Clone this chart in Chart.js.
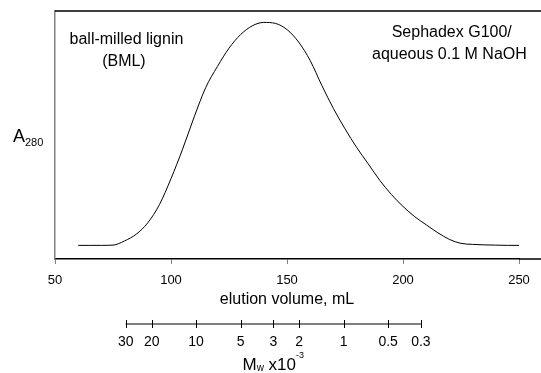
<!DOCTYPE html>
<html>
<head>
<meta charset="utf-8">
<script src="https://cdn.jsdelivr.net/npm/chart.js@4.4.1/dist/chart.umd.min.js"></script>
<style>
  html, body { margin: 0; padding: 0; background: #fff; }
  #wrap { width: 541px; height: 373px; }
</style>
</head>
<body>
<div id="wrap"><canvas id="chart" width="541" height="373"></canvas></div>
<script>
// elution volume (mL) vs A280
const elutionVolume = [60, 65, 70, 75, 80, 85, 90, 95, 100, 105, 110, 115, 120, 125, 130, 135, 140, 145, 150,
  155, 160, 165, 170, 175, 180, 185, 190, 195, 200, 205, 210, 215, 220, 225, 230, 235, 240, 245, 250];
const absorbance = [0.055, 0.055, 0.055, 0.056, 0.073, 0.100, 0.146, 0.219, 0.324, 0.443, 0.573, 0.692, 0.776,
  0.850, 0.905, 0.940, 0.954, 0.950, 0.925, 0.875, 0.800, 0.700, 0.607, 0.525, 0.450, 0.384, 0.317, 0.260,
  0.212, 0.171, 0.138, 0.106, 0.079, 0.063, 0.059, 0.057, 0.056, 0.055, 0.055];

const volumeTicks = [50, 100, 150, 200, 250];
const mwTicks = [30, 20, 10, 5, 3, 2, 1, 0.5, 0.3];
const notesLeft = ['ball-milled lignin', '(BML)'];
const notesRight = ['Sephadex G100/', 'aqueous 0.1 M NaOH'];

const FONT = 'Arial, "Liberation Sans", sans-serif';

// draws the frame top, the Mw scale bar and the texts with sub/superscripts
const extras = {
  id: 'extras',
  afterDraw(chart) {
    const { ctx, chartArea: ca, scales } = chart;
    const x = scales.x, y = scales.y, mw = scales.mw;
    ctx.save();
    ctx.strokeStyle = '#000';
    ctx.lineWidth = 1.5;
    ctx.beginPath();
    ctx.moveTo(ca.left, ca.top);
    ctx.lineTo(chart.width, ca.top);
    ctx.moveTo(ca.right, ca.bottom);
    ctx.lineTo(chart.width, ca.bottom);
    ctx.stroke();

    // Mw bar
    const ya = mw.top + 10;
    const xa = mw.getPixelForValue(mwTicks[0]);
    const xb = mw.getPixelForValue(mwTicks[mwTicks.length - 1]);
    ctx.lineWidth = 1;
    ctx.beginPath();
    ctx.moveTo(xa, ya);
    ctx.lineTo(xb, ya);
    mwTicks.forEach(v => {
      const px = Math.round(mw.getPixelForValue(v)) + 0.5;
      ctx.moveTo(px, ya - 4);
      ctx.lineTo(px, ya + 4);
    });
    ctx.stroke();

    ctx.fillStyle = '#000';
    ctx.textBaseline = 'alphabetic';

    // Mw x10-3
    const parts = [
      { t: 'M', f: '17px ' + FONT, dy: 0 },
      { t: 'w', f: '10px ' + FONT, dy: 1 },
      { t: ' x10', f: '17px ' + FONT, dy: 0 },
      { t: '-3', f: '9px ' + FONT, dy: -12 }
    ];
    let total = 0;
    parts.forEach(p => { ctx.font = p.f; p.w = ctx.measureText(p.t).width; total += p.w; });
    let cx = (xa + xb) / 2 - total / 2;
    ctx.textAlign = 'left';
    parts.forEach(p => {
      ctx.font = p.f;
      ctx.fillText(p.t, cx, mw.bottom - 3 + p.dy);
      cx += p.w;
    });

    // A280
    const midY = (ca.top + ca.bottom) / 2;
    ctx.font = '18px ' + FONT;
    ctx.fillText('A', 13, midY + 7);
    const aw = ctx.measureText('A').width;
    ctx.font = '11px ' + FONT;
    ctx.fillText('280', 13 + aw, midY + 11);

    // notes
    ctx.font = '16px ' + FONT;
    ctx.textAlign = 'center';
    ctx.textBaseline = 'middle';
    ctx.fillText(notesLeft[0], x.getPixelForValue(80.8), y.getPixelForValue(0.883));
    ctx.fillText(notesLeft[1], x.getPixelForValue(79.7), y.getPixelForValue(0.794));
    ctx.fillText(notesRight[0], x.getPixelForValue(221.0), y.getPixelForValue(0.911));
    ctx.fillText(notesRight[1], x.getPixelForValue(220.0), y.getPixelForValue(0.823));
    ctx.restore();
  }
};

new Chart(document.getElementById('chart'), {
  type: 'line',
  data: {
    labels: elutionVolume,
    datasets: [{
      data: elutionVolume.map((v, i) => ({ x: v, y: absorbance[i] })),
      borderColor: '#000',
      borderWidth: 1,
      pointRadius: 0,
      fill: false,
      cubicInterpolationMode: 'monotone'
    }]
  },
  options: {
    responsive: false,
    animation: false,
    devicePixelRatio: 1,
    layout: { padding: { top: 11, right: 22, left: 0, bottom: 0 } },
    plugins: { legend: { display: false }, tooltip: { enabled: false } },
    scales: {
      x: {
        type: 'linear',
        position: 'bottom',
        min: 50,
        max: 250,
        afterBuildTicks: s => { s.ticks = volumeTicks.map(v => ({ value: v })); },
        afterFit: s => { s.height = 55; },
        grid: { display: true, drawOnChartArea: false, tickLength: 5, color: '#808080' },
        border: { display: true, color: '#000', width: 1.5 },
        ticks: { color: '#000', font: { family: FONT, size: 13 }, padding: 9, maxRotation: 0 },
        title: { display: true, text: 'elution volume, mL', color: '#000',
                 font: { family: FONT, size: 16 }, padding: { top: 0, bottom: 5 } }
      },
      mw: {
        type: 'logarithmic',
        position: 'bottom',
        weight: 1,
        reverse: true,
        min: 0.0649,
        max: 90.36,
        afterBuildTicks: s => { s.ticks = mwTicks.map(v => ({ value: v })); },
        afterFit: s => { s.height = 59; },
        grid: { display: false, drawTicks: false },
        border: { display: false },
        ticks: { color: '#000', font: { family: FONT, size: 14 }, padding: 20, maxRotation: 0,
                 autoSkip: false, callback: v => String(v) }
      },
      y: {
        min: 0,
        max: 1,
        afterFit: s => { s.width = 55; },
        grid: { display: false },
        border: { display: true, color: '#808080', width: 1.5 },
        ticks: { display: false }
      }
    }
  },
  plugins: [extras]
});
</script>
</body>
</html>
